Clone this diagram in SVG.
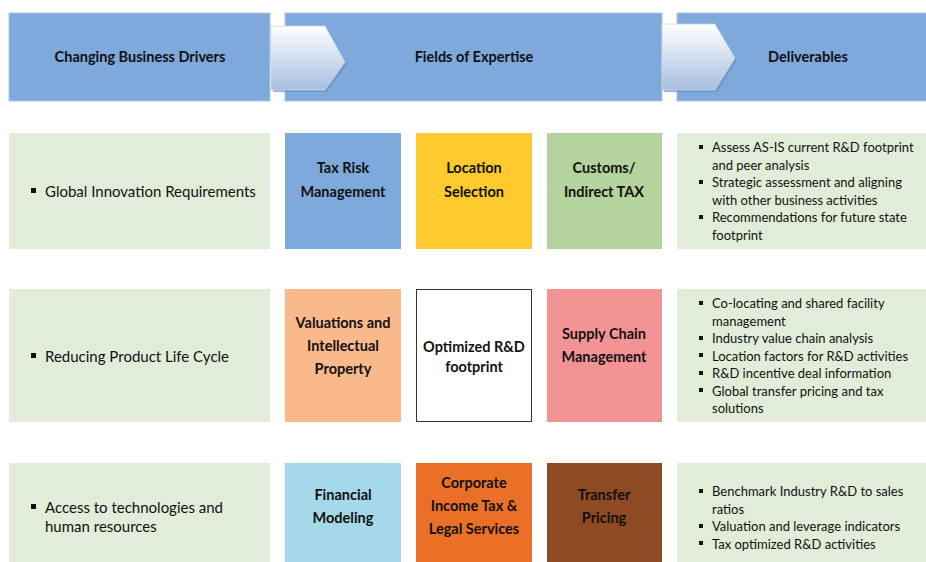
<svg xmlns="http://www.w3.org/2000/svg" width="926" height="562" viewBox="0 0 926 562">
<defs>
<linearGradient id="chev" x1="0" y1="0" x2="0" y2="1">
<stop offset="0" stop-color="#FFFFFF"/>
<stop offset="1" stop-color="#A7BFDF"/>
</linearGradient>
<style>
text{font-family:Lato,"Liberation Sans",sans-serif;fill:#111;}
.h{font-size:14.5px;font-weight:bold;text-anchor:middle;}
.b{font-size:14.5px;font-weight:bold;text-anchor:middle;}
.l{font-size:15px;}
.r{font-size:13px;}
.hdr{fill:#7EA9DA;stroke:#A9C6EA;stroke-width:1;}
.grn{fill:#E2EDD9;}
</style>
</defs>
<rect width="926" height="562" fill="#FFFFFF"/>
<g id="header">
<g id="h1"><rect class="hdr" x="9" y="13" width="261" height="88"/><text class="h" x="140" y="62">Changing Business Drivers</text></g>
<g id="h2"><rect class="hdr" x="285" y="13" width="377" height="88"/><text class="h" x="474" y="62">Fields of Expertise</text></g>
<g id="h3"><rect class="hdr" x="677" y="13" width="250" height="88"/><text class="h" x="808" y="62">Deliverables</text></g>
<g id="chev1"><polygon points="273,28 327,28 347,64 327,92 273,92" fill="#6C90C0" opacity="0.7"/><polygon points="271,26 325,26 345,62 325,90 271,90" fill="url(#chev)" stroke="#C9D8EC" stroke-width="0.8"/></g>
<g id="chev2"><polygon points="664,26 717,26 737,60 717,92 664,92" fill="#6C90C0" opacity="0.7"/><polygon points="662,24 715,24 735,58 715,90 662,90" fill="url(#chev)" stroke="#C9D8EC" stroke-width="0.8"/></g>
</g>
<g id="row1">
<g id="d1"><rect class="grn" x="9" y="133" width="261" height="116"/><rect x="31" y="188" width="5" height="5" fill="#111"/><text class="l" x="45" y="197">Global Innovation Requirements</text></g>
<g id="f1"><rect x="285" y="133" width="116" height="116" fill="#7DAADB"/><text class="b" x="343" y="173">Tax Risk</text><text class="b" x="343" y="197">Management</text></g>
<g id="f2"><rect x="416" y="133" width="116" height="116" fill="#FECA2D"/><text class="b" x="474" y="173">Location</text><text class="b" x="474" y="197">Selection</text></g>
<g id="f3"><rect x="547" y="133" width="115" height="116" fill="#B5D39C"/><text class="b" x="604" y="173">Customs/</text><text class="b" x="604" y="197">Indirect TAX</text></g>
<g id="o1"><rect class="grn" x="677" y="133" width="249" height="116"/>
<g fill="#111"><rect x="699" y="145" width="4" height="4"/><rect x="699" y="180" width="4" height="4"/><rect x="699" y="215" width="4" height="4"/></g>
<text class="r" x="712" y="152">Assess AS-IS current R&amp;D footprint</text>
<text class="r" x="712" y="170">and peer analysis</text>
<text class="r" x="712" y="187">Strategic assessment and aligning</text>
<text class="r" x="712" y="205">with other business activities</text>
<text class="r" x="712" y="222">Recommendations for future state</text>
<text class="r" x="712" y="240">footprint</text></g>
</g>
<g id="row2">
<g id="d2"><rect class="grn" x="9" y="289" width="261" height="133"/><rect x="31" y="353" width="5" height="5" fill="#111"/><text class="l" x="45" y="362">Reducing Product Life Cycle</text></g>
<g id="f4"><rect x="285" y="289" width="116" height="133" fill="#FAB98A"/><text class="b" x="343" y="328">Valuations and</text><text class="b" x="343" y="351">Intellectual</text><text class="b" x="343" y="374">Property</text></g>
<g id="f5"><rect x="416.5" y="289.5" width="115" height="132" fill="#FFFFFF" stroke="#333" stroke-width="1"/><text class="b" x="474" y="352">Optimized R&amp;D</text><text class="b" x="474" y="372">footprint</text></g>
<g id="f6"><rect x="547" y="289" width="115" height="133" fill="#F49394"/><text class="b" x="604" y="339">Supply Chain</text><text class="b" x="604" y="362">Management</text></g>
<g id="o2"><rect class="grn" x="677" y="289" width="249" height="133"/>
<g fill="#111"><rect x="699" y="301" width="4" height="4"/><rect x="699" y="336" width="4" height="4"/><rect x="699" y="353" width="4" height="4"/><rect x="699" y="371" width="4" height="4"/><rect x="699" y="388" width="4" height="4"/></g>
<text class="r" x="712" y="308">Co-locating and shared facility</text>
<text class="r" x="712" y="326">management</text>
<text class="r" x="712" y="343">Industry value chain analysis</text>
<text class="r" x="712" y="361">Location factors for R&amp;D activities</text>
<text class="r" x="712" y="378">R&amp;D incentive deal information</text>
<text class="r" x="712" y="396">Global transfer pricing and tax</text>
<text class="r" x="712" y="413">solutions</text></g>
</g>
<g id="row3">
<g id="d3"><rect class="grn" x="9" y="463" width="261" height="99"/><rect x="31" y="504" width="5" height="5" fill="#111"/><text class="l" x="45" y="513">Access to technologies and</text><text class="l" x="45" y="532">human resources</text></g>
<g id="f7"><rect x="285" y="463" width="116" height="99" fill="#A5D8E8"/><text class="b" x="343" y="500">Financial</text><text class="b" x="343" y="523">Modeling</text></g>
<g id="f8"><rect x="416" y="463" width="116" height="99" fill="#EA7028"/><text class="b" x="474" y="488">Corporate</text><text class="b" x="474" y="511">Income Tax &amp;</text><text class="b" x="474" y="534">Legal Services</text></g>
<g id="f9"><rect x="547" y="463" width="115" height="99" fill="#8E4A22"/><text class="b" x="604" y="500">Transfer</text><text class="b" x="604" y="523">Pricing</text></g>
<g id="o3"><rect class="grn" x="677" y="463" width="249" height="99"/>
<g fill="#111"><rect x="699" y="489" width="4" height="4"/><rect x="699" y="524" width="4" height="4"/><rect x="699" y="541" width="4" height="4"/></g>
<text class="r" x="712" y="496">Benchmark Industry R&amp;D to sales</text>
<text class="r" x="712" y="514">ratios</text>
<text class="r" x="712" y="531">Valuation and leverage indicators</text>
<text class="r" x="712" y="549">Tax optimized R&amp;D activities</text></g>
</g>
<g id="connectors"></g>
</svg>
